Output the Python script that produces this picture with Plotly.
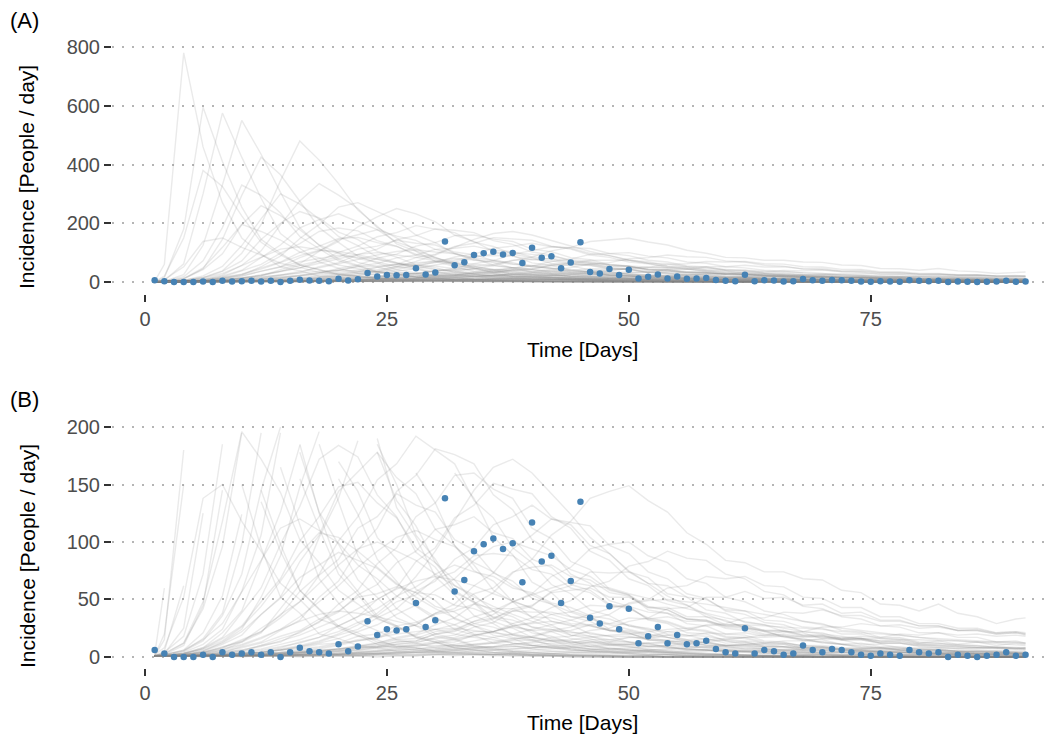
import plotly.graph_objects as go

# ---------------- data ----------------
DAYS = [1] + list(range(2, 91, 2)) + [91]          # sampling days of the simulated trajectories
OBS_DAYS = list(range(1, 92))
OBS = [6, 3, 0, 0, 0, 2, 0, 4, 2, 3,
       4, 2, 4, 0, 4, 8, 5, 4, 3, 11,
       5, 9, 31, 19, 24, 23, 24, 47, 26, 32,
       138, 57, 67, 92, 98, 103, 94, 99, 65, 117,
       83, 88, 47, 66, 135, 34, 29, 44, 24, 42,
       12, 18, 26, 12, 19, 11, 12, 14, 7, 4,
       3, 25, 3, 6, 5, 2, 3, 10, 6, 4,
       7, 6, 4, 2, 1, 3, 2, 1, 6, 4,
       3, 4, 0, 2, 1, 0, 1, 2, 4, 1,
       2]

X_TICKS = [0, 25, 50, 75]
Y_TICKS_A = [0, 200, 400, 600, 800]
Y_TICKS_B = [0, 50, 100, 150, 200]

# simulated trajectories (values at DAYS)
E1 = [2, 60, 780, 460, 270, 150, 95, 52, 38, 20, 16, 10, 8, 5, 4, 3, 2, 2, 1, 1, 1, 1, 0, 0, 0, 0, 0, 0, 0, 0, 0, 0, 0, 0, 0, 0, 0, 0, 0, 0, 0, 0, 0, 0, 0, 0, 0]
E2 = [1, 15, 180, 595, 410, 255, 145, 98, 58, 42, 27, 21, 13, 10, 8, 5, 4, 3, 2, 2, 1, 1, 1, 0, 0, 0, 0, 0, 0, 0, 0, 0, 0, 0, 0, 0, 0, 0, 0, 0, 0, 0, 0, 0, 0, 0, 0]
E3 = [1, 5, 62, 300, 575, 425, 285, 165, 115, 68, 47, 30, 23, 15, 12, 8, 6, 4, 3, 2, 2, 1, 1, 1, 0, 0, 0, 0, 0, 0, 0, 0, 0, 0, 0, 0, 0, 0, 0, 0, 0, 0, 0, 0, 0, 0, 0]
E4 = [1, 3, 25, 125, 330, 550, 435, 305, 185, 125, 78, 57, 36, 27, 17, 13, 8, 6, 4, 3, 2, 2, 1, 1, 1, 0, 0, 0, 0, 0, 0, 0, 0, 0, 0, 0, 0, 0, 0, 0, 0, 0, 0, 0, 0, 0, 0]
E5 = [1, 20, 150, 380, 325, 225, 135, 92, 58, 41, 25, 19, 11, 8, 6, 4, 3, 2, 2, 1, 1, 1, 0, 0, 0, 0, 0, 0, 0, 0, 0, 0, 0, 0, 0, 0, 0, 0, 0, 0, 0, 0, 0, 0, 0, 0, 0]
E6 = [1, 2, 10, 45, 145, 295, 425, 365, 275, 185, 135, 88, 64, 42, 31, 20, 16, 10, 7, 5, 4, 3, 2, 2, 1, 1, 1, 0, 0, 0, 0, 0, 0, 0, 0, 0, 0, 0, 0, 0, 0, 0, 0, 0, 0, 0, 0]
E7 = [1, 4, 18, 72, 185, 330, 295, 235, 155, 112, 72, 54, 34, 26, 17, 13, 8, 6, 4, 3, 2, 2, 1, 1, 1, 0, 0, 0, 0, 0, 0, 0, 0, 0, 0, 0, 0, 0, 0, 0, 0, 0, 0, 0, 0, 0, 0]
E8 = [1, 3, 12, 48, 118, 196, 172, 143, 102, 82, 58, 46, 33, 27, 18, 15, 10, 8, 6, 4, 3, 2, 2, 1, 1, 1, 1, 0, 0, 0, 0, 0, 0, 0, 0, 0, 0, 0, 0, 0, 0, 0, 0, 0, 0, 0, 0]
E9 = [2, 8, 52, 138, 150, 118, 92, 64, 50, 33, 27, 18, 15, 9, 8, 5, 4, 3, 2, 2, 1, 1, 1, 1, 0, 0, 0, 0, 0, 0, 0, 0, 0, 0, 0, 0, 0, 0, 0, 0, 0, 0, 0, 0, 0, 0, 0]

M1A = [1, 2, 5, 16, 38, 98, 195, 345, 480, 415, 335, 245, 190, 130, 104, 70, 54, 36, 29, 19, 15, 10, 7, 5, 4, 3, 2, 2, 1, 1, 1, 1, 0, 0, 0, 0, 0, 0, 0, 0, 0, 0, 0, 0, 0, 0, 0]
M1B = [1, 1, 4, 11, 24, 57, 106, 195, 276, 335, 296, 250, 185, 150, 106, 85, 58, 47, 31, 25, 17, 14, 9, 7, 5, 4, 3, 2, 2, 1, 1, 1, 1, 0, 0, 0, 0, 0, 0, 0, 0, 0, 0, 0, 0, 0, 0]
M1C = [1, 2, 6, 21, 53, 124, 215, 300, 265, 214, 155, 124, 85, 66, 45, 35, 24, 19, 12, 10, 7, 5, 4, 3, 2, 2, 1, 1, 1, 0, 0, 0, 0, 0, 0, 0, 0, 0, 0, 0, 0, 0, 0, 0, 0, 0, 0]
M1D = [1, 1, 2, 5, 13, 24, 52, 88, 148, 196, 255, 270, 240, 210, 160, 134, 97, 80, 58, 48, 34, 28, 19, 16, 11, 9, 7, 5, 4, 3, 2, 2, 1, 1, 1, 0, 0, 0, 0, 0, 0, 0, 0, 0, 0, 0, 0]
M1E = [1, 1, 3, 8, 21, 40, 83, 126, 184, 212, 232, 205, 178, 136, 114, 82, 67, 48, 40, 27, 23, 16, 14, 9, 8, 6, 5, 4, 3, 2, 2, 1, 1, 1, 0, 0, 0, 0, 0, 0, 0, 0, 0, 0, 0, 0, 0]
M1F = [1, 1, 1, 3, 6, 13, 21, 42, 63, 104, 138, 188, 222, 250, 232, 205, 160, 138, 104, 89, 65, 56, 40, 35, 24, 21, 15, 13, 9, 8, 6, 5, 4, 3, 2, 2, 1, 1, 1, 1, 0, 0, 0, 0, 0, 0, 0]
M1G = [1, 2, 5, 14, 36, 72, 145, 200, 240, 218, 170, 144, 104, 85, 59, 49, 33, 27, 19, 16, 10, 8, 6, 5, 4, 3, 2, 2, 1, 1, 1, 0, 0, 0, 0, 0, 0, 0, 0, 0, 0, 0, 0, 0, 0, 0, 0]
M1H = [1, 3, 12, 42, 96, 195, 260, 226, 178, 126, 98, 67, 52, 34, 27, 18, 15, 9, 8, 5, 4, 3, 2, 2, 1, 1, 1, 0, 0, 0, 0, 0, 0, 0, 0, 0, 0, 0, 0, 0, 0, 0, 0, 0, 0, 0, 0]

M2A = [1, 1, 2, 4, 9, 13, 25, 36, 57, 72, 101, 122, 154, 168, 192, 180, 168, 136, 121, 95, 82, 63, 55, 41, 36, 27, 23, 17, 15, 10, 9, 7, 6, 5, 4, 3, 2, 2, 2, 1, 1, 1, 1, 0, 0, 0, 0]
M2B = [1, 1, 1, 2, 4, 9, 13, 23, 32, 52, 66, 93, 112, 144, 158, 181, 176, 168, 141, 128, 102, 92, 72, 64, 49, 44, 32, 29, 21, 20, 14, 13, 9, 9, 6, 6, 4, 4, 3, 2, 2, 2, 1, 1, 1, 1, 1]
M2C = [1, 1, 2, 5, 11, 19, 37, 52, 83, 106, 144, 161, 178, 156, 142, 111, 97, 75, 66, 48, 43, 31, 28, 20, 18, 13, 12, 8, 7, 6, 5, 4, 3, 2, 2, 2, 1, 1, 1, 1, 0, 0, 0, 0, 0, 0, 0]
M2D = [1, 1, 3, 8, 17, 38, 60, 98, 131, 172, 184, 174, 141, 122, 91, 78, 56, 48, 34, 29, 21, 18, 12, 11, 7, 6, 5, 4, 3, 2, 2, 1, 1, 1, 1, 0, 0, 0, 0, 0, 0, 0, 0, 0, 0, 0, 0]
M2E = [1, 1, 1, 2, 3, 5, 10, 13, 22, 30, 46, 58, 81, 95, 122, 134, 158, 160, 146, 138, 112, 103, 83, 76, 59, 54, 41, 38, 29, 27, 20, 19, 14, 13, 9, 9, 6, 6, 4, 4, 3, 3, 2, 2, 2, 1, 1]
M2F = [1, 1, 2, 4, 8, 15, 22, 37, 48, 71, 85, 112, 122, 142, 132, 126, 102, 93, 73, 66, 51, 46, 35, 31, 23, 21, 15, 14, 10, 9, 7, 6, 5, 4, 3, 3, 2, 2, 2, 1, 1, 1, 1, 1, 0, 0, 0]
M2G = [1, 1, 1, 1, 2, 3, 5, 8, 13, 17, 27, 35, 50, 60, 83, 95, 121, 132, 151, 146, 142, 122, 112, 92, 84, 68, 62, 49, 45, 35, 32, 25, 23, 17, 16, 12, 11, 8, 8, 6, 5, 4, 4, 3, 3, 2, 2]
M2H = [1, 1, 3, 7, 16, 27, 48, 68, 101, 122, 148, 152, 134, 121, 95, 82, 62, 54, 40, 35, 26, 22, 16, 14, 10, 9, 6, 5, 4, 3, 3, 2, 2, 1, 1, 1, 1, 0, 0, 0, 0, 0, 0, 0, 0, 0, 0]
M2I = [1, 1, 1, 1, 2, 3, 4, 6, 9, 13, 19, 24, 34, 42, 57, 66, 85, 95, 115, 122, 132, 120, 115, 97, 90, 74, 69, 55, 52, 41, 38, 30, 28, 22, 21, 16, 15, 11, 11, 8, 7, 6, 5, 5, 4, 3, 3]
M2J = [1, 1, 1, 2, 4, 6, 10, 16, 21, 31, 39, 54, 63, 82, 92, 111, 115, 122, 108, 103, 85, 78, 63, 58, 46, 43, 33, 30, 24, 22, 17, 16, 12, 11, 8, 8, 6, 5, 5, 4, 3, 3, 2, 2, 2, 1, 1]

M3A = [1, 1, 1, 1, 1, 2, 2, 3, 4, 5, 7, 9, 12, 17, 20, 28, 34, 46, 56, 73, 85, 106, 118, 138, 144, 149, 136, 126, 108, 98, 84, 82, 74, 74, 68, 67, 58, 56, 46, 45, 40, 46, 38, 35, 29, 33, 34]
M3B = [1, 1, 1, 1, 1, 2, 3, 4, 5, 7, 10, 14, 16, 23, 28, 38, 46, 62, 73, 94, 106, 120, 117, 114, 97, 90, 74, 68, 55, 51, 40, 37, 30, 28, 22, 21, 16, 16, 12, 12, 9, 8, 7, 6, 5, 4, 4]
M3C = [1, 1, 1, 1, 1, 1, 2, 2, 3, 4, 5, 7, 9, 13, 14, 20, 23, 31, 37, 48, 55, 70, 78, 94, 98, 100, 88, 82, 68, 64, 52, 48, 40, 37, 31, 29, 23, 22, 17, 17, 13, 12, 11, 10, 9, 8, 7]
M3D = [1, 1, 1, 1, 1, 1, 1, 2, 2, 3, 3, 4, 5, 7, 9, 12, 13, 19, 22, 29, 34, 43, 49, 61, 66, 79, 83, 92, 86, 84, 72, 68, 57, 54, 44, 42, 35, 33, 27, 26, 21, 21, 17, 17, 13, 14, 12]
M3E = [1, 1, 1, 1, 2, 2, 3, 4, 6, 8, 11, 15, 17, 24, 28, 38, 42, 55, 60, 74, 78, 80, 70, 67, 56, 53, 43, 41, 33, 32, 26, 25, 20, 19, 15, 15, 11, 12, 9, 9, 7, 7, 5, 5, 4, 4, 3]
M3F = [1, 1, 1, 1, 1, 1, 1, 1, 2, 2, 2, 3, 3, 4, 5, 6, 8, 10, 12, 15, 18, 23, 26, 33, 37, 47, 50, 60, 62, 70, 68, 70, 62, 61, 52, 51, 43, 43, 35, 35, 29, 29, 25, 25, 21, 22, 20]
M3G = [1, 1, 1, 2, 3, 4, 6, 9, 12, 17, 22, 30, 36, 48, 54, 68, 74, 88, 90, 88, 76, 72, 60, 56, 45, 42, 34, 31, 25, 23, 18, 17, 13, 12, 10, 9, 7, 6, 5, 5, 4, 3, 3, 3, 2, 2, 2]
M3H = [1, 1, 1, 1, 1, 2, 2, 3, 4, 5, 6, 8, 10, 13, 14, 20, 22, 29, 33, 42, 45, 56, 58, 60, 52, 52, 43, 43, 35, 35, 28, 28, 23, 23, 19, 19, 15, 15, 12, 12, 10, 9, 8, 8, 7, 6, 6]
M3I = [1, 1, 1, 1, 1, 1, 1, 1, 1, 2, 2, 2, 3, 3, 4, 5, 6, 8, 9, 11, 13, 17, 18, 23, 25, 31, 34, 42, 43, 52, 52, 57, 51, 52, 45, 46, 38, 39, 32, 32, 27, 27, 23, 23, 20, 21, 19]
M3J = [1, 1, 1, 1, 1, 1, 2, 2, 3, 4, 5, 6, 8, 11, 12, 17, 19, 26, 30, 40, 44, 57, 62, 74, 73, 74, 64, 62, 52, 50, 41, 40, 32, 31, 26, 25, 20, 20, 16, 16, 12, 12, 10, 10, 8, 8, 8]

L1 = [1, 1, 1, 1, 1, 1, 1, 1, 1, 1, 2, 2, 2, 3, 3, 4, 4, 5, 6, 7, 8, 10, 10, 13, 13, 17, 17, 22, 23, 28, 29, 34, 34, 39, 38, 41, 36, 36, 31, 31, 27, 27, 23, 23, 20, 21, 20]
L2 = [1, 1, 1, 2, 2, 3, 4, 6, 8, 11, 12, 18, 20, 27, 30, 37, 40, 46, 42, 42, 35, 34, 29, 28, 23, 22, 18, 17, 13, 13, 10, 10, 8, 8, 6, 6, 5, 5, 4, 4, 3, 3, 3, 2, 2, 2, 2]
L3 = [1, 1, 1, 1, 1, 1, 1, 2, 2, 2, 3, 3, 4, 5, 6, 7, 9, 11, 13, 16, 17, 22, 23, 28, 29, 34, 33, 35, 31, 31, 27, 27, 23, 23, 19, 19, 16, 16, 13, 14, 11, 11, 10, 9, 9, 8, 8]
L4 = [1, 1, 1, 1, 1, 2, 2, 3, 3, 4, 5, 6, 8, 9, 11, 13, 16, 19, 22, 27, 29, 31, 27, 27, 23, 23, 19, 19, 15, 16, 12, 13, 10, 11, 8, 9, 7, 7, 6, 6, 5, 5, 4, 4, 4, 3, 3]
L5 = [1, 1, 1, 1, 1, 1, 1, 1, 1, 1, 1, 1, 2, 2, 2, 2, 3, 3, 3, 4, 4, 5, 5, 6, 7, 8, 9, 10, 12, 13, 15, 17, 19, 22, 22, 26, 26, 29, 27, 28, 25, 26, 23, 24, 21, 22, 21]
L6 = [1, 1, 2, 3, 5, 8, 12, 18, 23, 33, 40, 52, 55, 61, 56, 54, 45, 42, 35, 32, 26, 24, 19, 18, 13, 13, 9, 9, 6, 6, 4, 5, 3, 3, 2, 2, 1, 2, 1, 1, 1, 1, 1, 1, 0, 0, 0]
L7 = [1, 1, 3, 6, 12, 22, 37, 51, 69, 80, 91, 84, 77, 63, 56, 44, 39, 29, 26, 20, 17, 14, 11, 9, 7, 6, 5, 4, 3, 3, 2, 2, 1, 1, 1, 1, 1, 0, 0, 0, 0, 0, 0, 0, 0, 0, 0]
L8 = [1, 1, 1, 1, 1, 1, 1, 1, 2, 2, 2, 3, 3, 4, 4, 5, 6, 7, 8, 9, 10, 12, 12, 15, 15, 17, 16, 19, 18, 21, 20, 21, 18, 20, 17, 18, 15, 16, 14, 15, 12, 14, 11, 13, 10, 12, 11]
L9 = [1, 1, 1, 1, 2, 2, 3, 3, 4, 5, 6, 8, 9, 11, 13, 16, 17, 22, 22, 26, 23, 24, 21, 21, 18, 18, 15, 15, 12, 13, 10, 11, 9, 9, 7, 8, 6, 6, 5, 5, 4, 4, 4, 3, 3, 3, 3]
L10 = [1, 1, 1, 1, 1, 1, 1, 1, 1, 1, 1, 1, 1, 1, 1, 2, 2, 2, 2, 3, 3, 3, 4, 4, 5, 5, 6, 7, 8, 9, 10, 11, 12, 14, 14, 16, 16, 18, 17, 20, 19, 21, 19, 20, 18, 19, 18]
L11 = [1, 1, 1, 1, 1, 1, 2, 2, 3, 3, 4, 5, 6, 8, 10, 12, 15, 18, 22, 27, 30, 37, 39, 45, 44, 44, 39, 38, 33, 32, 27, 26, 22, 22, 18, 18, 15, 15, 12, 12, 10, 10, 9, 8, 8, 7, 7]
L12 = [1, 1, 1, 0, 1, 0, 1, 1, 0, 1, 1, 1, 0, 1, 1, 2, 1, 2, 2, 3, 2, 3, 3, 4, 3, 4, 5, 4, 5, 5, 6, 5, 6, 6, 7, 6, 7, 7, 8, 7, 8, 8, 7, 8, 8, 7, 8]
L13 = [1, 2, 6, 15, 29, 56, 84, 112, 120, 110, 99, 80, 68, 53, 44, 33, 28, 20, 17, 12, 10, 8, 6, 5, 4, 3, 2, 2, 1, 1, 1, 1, 1, 0, 0, 0, 0, 0, 0, 0, 0, 0, 0, 0, 0, 0, 0]
L14 = [1, 1, 1, 1, 1, 2, 2, 3, 4, 5, 7, 9, 11, 15, 16, 22, 24, 31, 34, 40, 39, 39, 35, 34, 29, 28, 24, 22, 19, 18, 15, 14, 12, 12, 10, 10, 8, 8, 7, 7, 6, 6, 5, 5, 5, 4, 4]

X1 = [1, 1, 3, 7, 14, 26, 44, 66, 90, 108, 104, 92, 78, 64, 52, 42, 34, 27, 22, 17, 14, 11, 9, 7, 6, 5, 4, 3, 2, 2, 2, 1, 1, 1, 1, 0, 0, 0, 0, 0, 0, 0, 0, 0, 0, 0, 0]
X2 = [1, 1, 1, 2, 4, 6, 9, 14, 19, 26, 33, 42, 50, 59, 66, 70, 67, 62, 55, 49, 42, 37, 32, 27, 23, 20, 17, 14, 12, 10, 9, 8, 7, 6, 5, 4, 4, 3, 3, 2, 2, 2, 2, 1, 1, 1, 1]
X3 = [1, 1, 1, 1, 2, 3, 4, 6, 9, 12, 16, 22, 28, 37, 45, 58, 68, 84, 96, 100, 94, 88, 76, 70, 58, 54, 44, 41, 33, 31, 25, 23, 19, 18, 14, 13, 11, 10, 8, 8, 6, 6, 5, 4, 4, 3, 3]
X4 = [1, 1, 2, 4, 8, 14, 22, 34, 48, 64, 80, 94, 100, 92, 84, 72, 62, 52, 44, 37, 31, 26, 22, 18, 15, 13, 11, 9, 7, 6, 5, 4, 4, 3, 3, 2, 2, 2, 1, 1, 1, 1, 1, 1, 0, 0, 0]

Y1 = [1, 1, 1, 1, 1, 1, 2, 2, 2, 3, 3, 4, 5, 6, 7, 8, 10, 11, 12, 14, 15, 14, 13, 13, 12, 11, 10, 10, 9, 8, 8, 7, 7, 6, 6, 5, 5, 5, 4, 4, 4, 3, 3, 3, 3, 3, 3]
Y2 = [1, 1, 1, 1, 1, 1, 1, 1, 1, 2, 2, 2, 3, 3, 4, 4, 5, 6, 6, 7, 8, 9, 9, 10, 11, 11, 12, 12, 11, 11, 10, 10, 9, 9, 8, 8, 7, 7, 7, 6, 6, 6, 5, 5, 5, 5, 5]
Y3 = [1, 1, 1, 2, 2, 3, 4, 6, 7, 9, 12, 14, 17, 20, 22, 24, 25, 23, 21, 19, 17, 15, 13, 12, 11, 10, 9, 8, 7, 6, 6, 5, 5, 4, 4, 3, 3, 3, 3, 2, 2, 2, 2, 2, 1, 1, 1]
Y4 = [1, 1, 1, 2, 2, 3, 3, 4, 5, 6, 7, 8, 9, 9, 10, 10, 10, 9, 9, 9, 8, 8, 8, 7, 7, 7, 6, 6, 6, 6, 5, 5, 5, 5, 4, 4, 4, 4, 4, 3, 3, 3, 3, 3, 3, 3, 3]
Y5 = [1, 1, 1, 2, 3, 5, 7, 11, 15, 21, 27, 35, 42, 53, 61, 72, 80, 74, 70, 60, 56, 47, 43, 36, 33, 27, 25, 20, 19, 15, 14, 11, 11, 9, 8, 7, 6, 5, 5, 4, 4, 3, 3, 3, 2, 2, 2]
Y6 = [1, 1, 2, 3, 6, 10, 16, 24, 35, 48, 62, 78, 92, 104, 110, 102, 96, 82, 74, 62, 54, 46, 39, 33, 28, 24, 20, 17, 14, 12, 10, 9, 7, 6, 5, 4, 4, 3, 3, 2, 2, 2, 2, 1, 1, 1, 1]
Y7 = [1, 1, 1, 1, 1, 2, 2, 3, 4, 6, 7, 10, 12, 16, 19, 24, 28, 35, 40, 48, 54, 60, 65, 62, 60, 55, 51, 46, 42, 38, 34, 31, 28, 25, 22, 20, 18, 16, 14, 13, 11, 10, 9, 8, 8, 7, 7]
Y8 = [1, 1, 2, 4, 7, 11, 17, 24, 31, 37, 40, 38, 35, 31, 27, 24, 20, 17, 15, 12, 10, 9, 7, 6, 5, 4, 4, 3, 3, 2, 2, 2, 1, 1, 1, 1, 1, 1, 0, 0, 0, 0, 0, 0, 0, 0, 0]
Y9 = [1, 1, 1, 1, 2, 3, 4, 7, 10, 14, 20, 28, 38, 52, 70, 92, 118, 145, 165, 172, 160, 142, 124, 104, 90, 75, 64, 53, 45, 37, 31, 26, 22, 18, 15, 13, 11, 9, 8, 6, 5, 5, 4, 3, 3, 3, 2]
Y10 = [1, 1, 1, 1, 1, 1, 1, 1, 1, 1, 1, 1, 2, 2, 2, 3, 3, 4, 4, 5, 6, 7, 8, 9, 10, 11, 12, 13, 14, 15, 16, 17, 17, 18, 18, 17, 17, 16, 16, 15, 15, 14, 14, 13, 13, 12, 12]
Y11 = [1, 1, 1, 1, 1, 1, 1, 2, 2, 2, 3, 4, 5, 6, 7, 9, 11, 14, 17, 20, 24, 28, 32, 37, 42, 46, 49, 50, 48, 46, 43, 40, 37, 34, 31, 28, 25, 23, 21, 19, 17, 15, 14, 13, 12, 11, 10]
Y12 = [1, 1, 1, 1, 1, 1, 1, 1, 2, 2, 2, 3, 3, 4, 5, 6, 7, 8, 9, 11, 12, 14, 15, 17, 19, 20, 22, 24, 25, 27, 28, 28, 27, 26, 25, 24, 22, 21, 20, 19, 17, 16, 15, 14, 13, 13, 12]

SIMS = [E1, E2, E3, E4, E5, E6, E7, E8, E9,
        M1A, M1B, M1C, M1D, M1E, M1F, M1G, M1H,
        M2A, M2B, M2C, M2D, M2E, M2F, M2G, M2H, M2I, M2J,
        M3A, M3B, M3C, M3D, M3E, M3F, M3G, M3H, M3I, M3J,
        L1, L2, L3, L4, L5, L6, L7, L8, L9, L10, L11, L12, L13, L14,
        X1, X2, X3, X4,
        Y1, Y2, Y3, Y4, Y5, Y6, Y7, Y8, Y9, Y10, Y11, Y12]

B_LIMIT = 200

# ---------------- figure ----------------
LINE_COL = "rgba(128,128,128,0.17)"
PT_COL = "#4682B4"
FONT = "Liberation Sans, Arial, Helvetica, sans-serif"

fig = go.Figure()

for sim in SIMS:
    n = min(len(sim), len(DAYS))
    fig.add_trace(go.Scatter(x=DAYS[:n], y=sim[:n], mode="lines",
                             line=dict(color=LINE_COL, width=1.4),
                             hoverinfo="skip", xaxis="x", yaxis="y"))
fig.add_trace(go.Scatter(x=OBS_DAYS, y=OBS, mode="markers",
                         marker=dict(color=PT_COL, size=6.5),
                         xaxis="x", yaxis="y"))

for sim in SIMS:
    n = min(len(sim), len(DAYS))
    yb = [v if v <= B_LIMIT else None for v in sim[:n]]
    fig.add_trace(go.Scatter(x=DAYS[:n], y=yb, mode="lines",
                             line=dict(color=LINE_COL, width=1.4),
                             hoverinfo="skip", xaxis="x2", yaxis="y2"))
fig.add_trace(go.Scatter(x=OBS_DAYS, y=OBS, mode="markers",
                         marker=dict(color=PT_COL, size=6.5),
                         xaxis="x2", yaxis="y2"))

W, H = 1060, 736
ML, MR, MT, MB = 112, 15, 41, 68
PW = W - ML - MR
PH = H - MT - MB


def px_x(x):
    return (x - ML) / PW


def px_y(y):
    return (H - MB - y) / PH


xax = dict(range=[-3.41, 93.01], tickvals=X_TICKS, ticks="outside", ticklen=7,
           tickwidth=2, tickcolor="#333333", showgrid=False, zeroline=False,
           showline=False, tickfont=dict(size=20, color="#4d4d4d", family=FONT))
yax = dict(ticks="outside", ticklen=7, tickwidth=2, tickcolor="#333333",
           showgrid=True, gridcolor="#b5b5b5", gridwidth=2, griddash="2px,8px",
           zeroline=False, showline=False,
           tickfont=dict(size=20, color="#4d4d4d", family=FONT))

fig.update_layout(
    width=W, height=H,
    margin=dict(l=ML, r=MR, t=MT, b=MB),
    plot_bgcolor="white", paper_bgcolor="white",
    showlegend=False,
    font=dict(family=FONT, size=20, color="#4d4d4d"),
    xaxis=dict(xax, anchor="y", domain=[0, 1]),
    yaxis=dict(yax, anchor="x", domain=[px_y(293.5), 1], range=[-39.1, 820.4], tickvals=Y_TICKS_A),
    xaxis2=dict(xax, anchor="y2", domain=[0, 1]),
    yaxis2=dict(yax, anchor="x2", domain=[0, px_y(420)], range=[-9.6, 206.1], tickvals=Y_TICKS_B),
)

ann = []
for label, y in [("(A)", 21), ("(B)", 399)]:
    ann.append(dict(text=label, x=px_x(8), y=px_y(y), xref="paper", yref="paper",
                    xanchor="left", yanchor="middle", showarrow=False,
                    font=dict(size=22, color="black", family=FONT)))
for y in [177, 556]:
    ann.append(dict(text="Incidence [People / day]", x=px_x(27), y=px_y(y),
                    xref="paper", yref="paper", xanchor="center", yanchor="middle",
                    textangle=-90, showarrow=False,
                    font=dict(size=21, color="black", family=FONT)))
for y in [349, 722]:
    ann.append(dict(text="Time [Days]", x=px_x(582), y=px_y(y),
                    xref="paper", yref="paper", xanchor="center", yanchor="middle",
                    showarrow=False, font=dict(size=21, color="black", family=FONT)))
fig.update_layout(annotations=ann)

fig.write_html("out.html", config={"displayModeBar": False},
               post_script="document.body.style.margin='0';")
